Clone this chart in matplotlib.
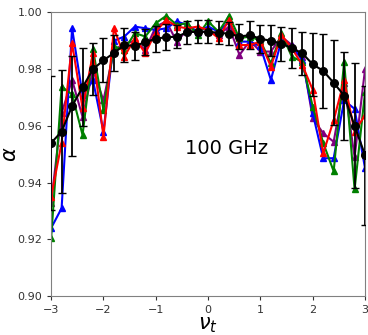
import numpy as np
import matplotlib
matplotlib.use("Agg")
import matplotlib.pyplot as plt

# x grid: nu_t from -3 to 3
nu_t = [-3.0, -2.8, -2.6, -2.4, -2.2, -2.0, -1.8, -1.6, -1.4, -1.2, -1.0,
        -0.8, -0.6, -0.4, -0.2, 0.0, 0.2, 0.4, 0.6, 0.8, 1.0,
        1.2, 1.4, 1.6, 1.8, 2.0, 2.2, 2.4, 2.6, 2.8, 3.0]

mean_alpha = [0.954, 0.958, 0.967, 0.9736, 0.980, 0.9831, 0.9857, 0.9885, 0.9882, 0.9895, 0.9907,
              0.9913, 0.9914, 0.993, 0.9932, 0.9932, 0.9928, 0.9925, 0.9915, 0.992, 0.9907,
              0.990, 0.989, 0.9874, 0.9856, 0.9817, 0.9794, 0.9752, 0.9707, 0.960, 0.9497]
mean_err = [0.0235, 0.0218, 0.0175, 0.0138, 0.0092, 0.0078, 0.0065, 0.006, 0.005, 0.0045, 0.0045,
            0.0045, 0.004, 0.004, 0.004, 0.004, 0.004, 0.004, 0.0045, 0.005, 0.005,
            0.0055, 0.006, 0.007, 0.0075, 0.011, 0.013, 0.015, 0.0155, 0.022, 0.0245]

alpha_blue = [0.924, 0.931, 0.9944, 0.9709, 0.976, 0.958, 0.990, 0.9915, 0.995, 0.9944, 0.9938,
              0.9944, 0.9968, 0.9956, 0.9932, 0.995, 0.9932, 0.9968, 0.9897, 0.9897, 0.988,
              0.9762, 0.990, 0.988, 0.9832, 0.9644, 0.9486, 0.9486, 0.969, 0.966, 0.945]
alpha_green = [0.9205, 0.9738, 0.9711, 0.9568, 0.987, 0.9656, 0.988, 0.9868, 0.9927, 0.9915, 0.9962,
               0.9988, 0.9956, 0.9962, 0.992, 0.9968, 0.9932, 0.9988, 0.9909, 0.9915, 0.990,
               0.982, 0.9927, 0.9844, 0.9826, 0.9668, 0.954, 0.944, 0.9826, 0.9376, 0.972]
alpha_red = [0.935, 0.954, 0.9891, 0.9662, 0.9856, 0.9562, 0.9944, 0.9844, 0.9909, 0.9856, 0.9932,
             0.9974, 0.995, 0.9944, 0.995, 0.9938, 0.9909, 0.9974, 0.9885, 0.9885, 0.9897,
             0.9809, 0.992, 0.9874, 0.9815, 0.9727, 0.9503, 0.962, 0.976, 0.958, 0.9638]
alpha_purple = [0.933, 0.9645, 0.9762, 0.9632, 0.9797, 0.969, 0.9868, 0.989, 0.990, 0.9868, 0.995,
                0.9968, 0.9897, 0.9938, 0.993, 0.9932, 0.992, 0.995, 0.985, 0.990, 0.9862,
                0.9862, 0.9915, 0.9885, 0.9844, 0.9627, 0.9574, 0.9544, 0.975, 0.949, 0.980]

fig = plt.figure(figsize=(3.68, 3.35), dpi=100)
ax = fig.add_axes([0.139, 0.116, 0.853, 0.847])

for vals, col in [(alpha_purple, "purple"), (alpha_blue, "blue"),
                  (alpha_green, "green"), (alpha_red, "red")]:
    ax.plot(nu_t, vals, "-^", color=col, lw=1.5, ms=5)

ax.errorbar(nu_t, mean_alpha, yerr=mean_err, fmt="-o", color="black",
            ecolor="black", lw=1.5, elinewidth=1.3, capsize=3, ms=5.5, zorder=5)

ax.text(-0.45, 0.952, "100 GHz", fontsize=14, va="center")

ax.set_xlim(-3, 3)
ax.set_ylim(0.90, 1.00)
ax.set_xticks(np.arange(-3, 4, 1))
ax.set_yticks(np.arange(0.90, 1.001, 0.02))
ax.set_yticklabels(["0.90", "0.92", "0.94", "0.96", "0.98", "1.00"])
ax.tick_params(labelsize=8, length=3, colors="#333333")
for sp in ax.spines.values():
    sp.set_color("#808080")

ax.set_xlabel(r"$\nu_t$", fontsize=15)
ax.xaxis.set_label_coords(0.5, -0.065)
ax.set_ylabel(r"$\alpha$", fontsize=15)
ax.yaxis.set_label_coords(-0.1, 0.5)

fig.savefig("out.png", dpi=100)
